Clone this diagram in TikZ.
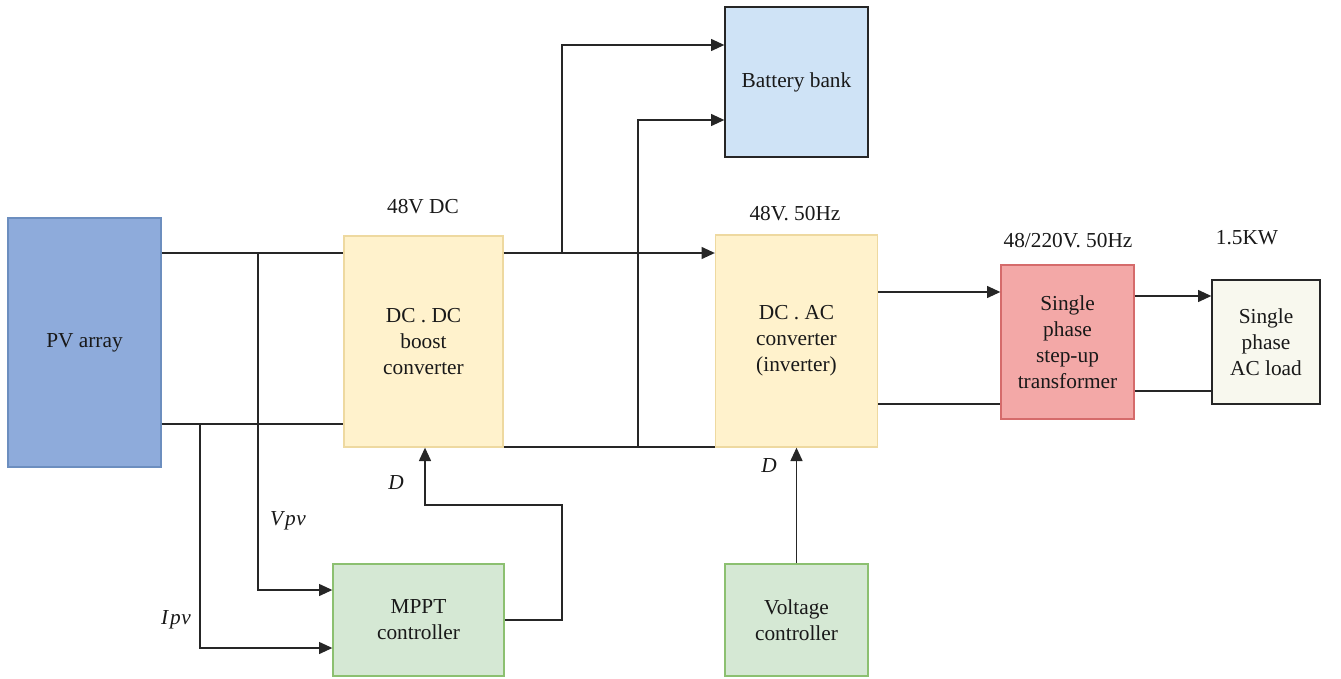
\documentclass[tikz,border=0pt]{standalone}
\usepackage{fontspec}
\setmainfont{Liberation Serif}
\usetikzlibrary{arrows.meta}
\definecolor{pvfill}{HTML}{8EABDB}
\definecolor{pvline}{HTML}{6C8EBF}
\definecolor{yfill}{HTML}{FFF2CC}
\definecolor{yline}{HTML}{EED9A0}
\definecolor{bfill}{HTML}{CFE3F6}
\definecolor{tfill}{HTML}{F3A8A7}
\definecolor{tline}{HTML}{D56B6B}
\definecolor{lfill}{HTML}{F8F8EE}
\definecolor{gfill}{HTML}{D5E8D4}
\definecolor{gline}{HTML}{8CC070}
\tikzset{
  blk/.style={draw, line width=1pt, align=center, inner sep=2pt,
    font=\fontsize{16}{19.5}\selectfont, text=black!90},
  lbl/.style={font=\fontsize{16}{18}\selectfont, text=black!90},
  wire/.style={line width=1.1pt, black!85},
  arr/.style={wire, -{Triangle[length=10pt,width=9pt]}},
}
\begin{document}
\begin{tikzpicture}[x=0.75pt,y=-0.75pt]
\useasboundingbox (0,0) rectangle (1341,678);
\node[blk, fill=pvfill, draw=pvline, minimum width=114.75pt, minimum height=186.75pt] (pv) at (84.5,342.5) {PV array};
\node[blk, fill=yfill, draw=yline, minimum width=119.25pt, minimum height=158.25pt] (dcdc) at (423.5,341.5) {DC . DC\\boost\\converter};
\node[blk, fill=bfill, draw=black!85, minimum width=107.25pt, minimum height=112.5pt] (bat) at (796.5,82) {Battery bank};
\node[blk, fill=yfill, draw=yline, minimum width=121.5pt, minimum height=159pt] (dcac) at (796.5,341) {DC . AC\\converter\\(inverter)};
\node[blk, fill=tfill, draw=tline, minimum width=99.75pt, minimum height=115.5pt] (tr) at (1067.5,342) {Single\\phase\\step-up\\transformer};
\node[blk, fill=lfill, draw=black!85, minimum width=81pt, minimum height=93pt] (load) at (1266,342) {Single\\phase\\AC load};
\node[blk, fill=gfill, draw=gline, minimum width=128.25pt, minimum height=84pt] (mppt) at (418.5,620) {MPPT\\controller};
\node[blk, fill=gfill, draw=gline, minimum width=107.25pt, minimum height=84pt] (vc) at (796.5,620) {Voltage\\controller};

\node[lbl] (l1) at (423,207) {48V DC};
\node[lbl] (l2) at (795,214) {48V. 50Hz};
\node[lbl] (l3) at (1068,241) {48/220V. 50Hz};
\node[lbl] (l4) at (1247,238) {1.5KW};
\node[lbl] (d1) at (396,483) {\textit{D}};
\node[lbl] (d2) at (769,466) {\textit{D}};
\node[lbl] (vpv) at (288,521) {\textit{V\kern1.5pt p\kern0.5pt v}};
\node[lbl] (ipv) at (176,620) {\textit{I\kern1.5pt p\kern0.5pt v}};

\coordinate (jv) at (258,253);
\coordinate (ji) at (200,424);
\coordinate (jb1) at (562,253);
\coordinate (jb2) at (638,447);

% PV to DC-DC
\draw[wire] (pv.east |- jv) -- (dcdc.west |- jv);
\draw[wire] (pv.east |- ji) -- (dcdc.west |- ji);
\draw[arr] (jv) |- (mppt.west |- 0,590);
\draw[arr] (ji) |- (mppt.west |- 0,648);
% DC-DC to DC-AC
\draw[arr] (dcdc.east |- jb1) -- (dcac.west |- jb1);
\draw[wire] (dcdc.east |- jb2) -- (dcac.west |- jb2);
\draw[arr] (jb1) |- (bat.west |- 0,45);
\draw[arr] (jb2) |- (bat.west |- 0,120);
% MPPT feedback
\draw[arr] (mppt.east |- 0,620) -| (562,505) -| (dcdc.south -| 425,0);
\draw[arr] (vc.north) -- (vc.north |- dcac.south);
% DC-AC to transformer
\draw[arr] (dcac.east |- 0,292) -- (tr.west |- 0,292);
\draw[wire] (dcac.east |- 0,404) -- (tr.west |- 0,404);
% transformer to load
\draw[arr] (tr.east |- 0,296) -- (load.west |- 0,296);
\draw[wire] (tr.east |- 0,391) -- (load.west |- 0,391);
\end{tikzpicture}
\end{document}
